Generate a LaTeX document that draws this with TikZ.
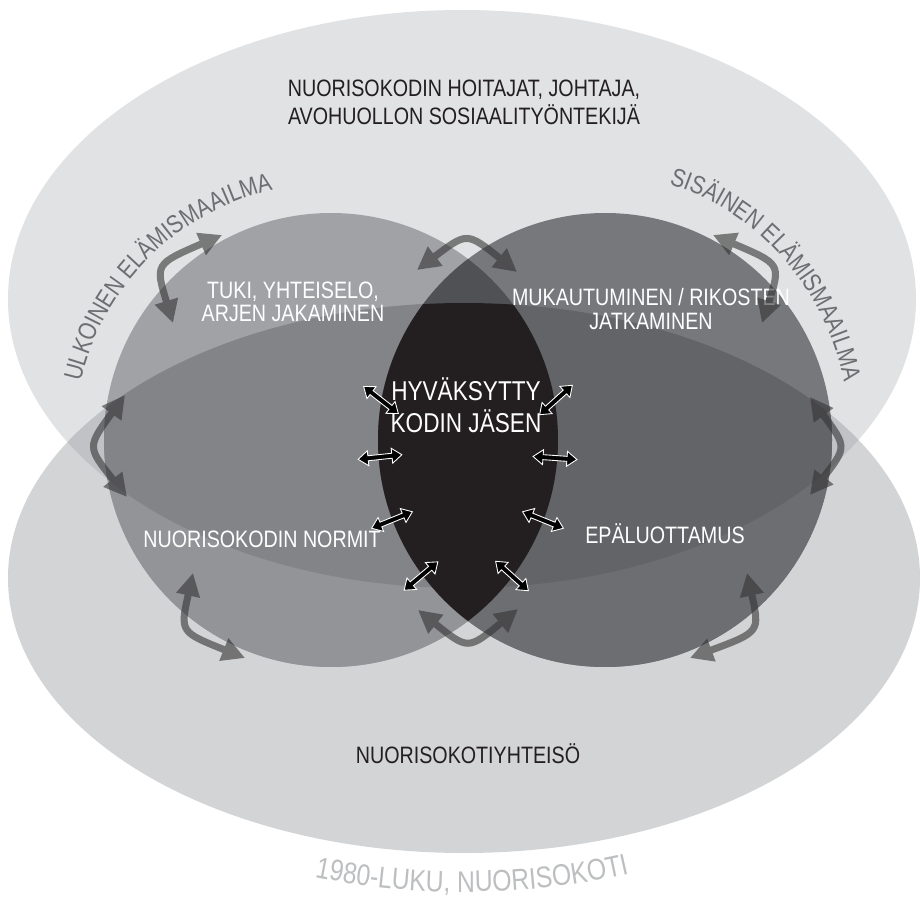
\documentclass[tikz,border=0pt]{standalone}
\usepackage{fontspec}
\setmainfont{Liberation Sans}[FakeStretch=0.83]
\usepackage{tikz}
\usetikzlibrary{arrows.meta,decorations.text}

\definecolor{topfill}{HTML}{E1E2E3}
\definecolor{botfill}{HTML}{D3D4D6}
\definecolor{bothfill}{HTML}{C1C2C5}
\definecolor{lefttop}{HTML}{A1A2A6}
\definecolor{leftboth}{HTML}{838488}
\definecolor{leftbot}{HTML}{939498}
\definecolor{righttop}{HTML}{77787C}
\definecolor{rightboth}{HTML}{636468}
\definecolor{rightbot}{HTML}{6D6E72}
\definecolor{lenstop}{HTML}{505155}
\definecolor{lensdark}{HTML}{231F20}
\definecolor{ringtext}{HTML}{6D6E71}
\definecolor{eratext}{HTML}{BCBEC0}

\def\topoval{(462,-299) ellipse [x radius=454, y radius=289]}
\def\botoval{(464,-578) ellipse [x radius=456, y radius=275]}
\def\leftdisc{(331,-440) circle [radius=227]}
\def\rightdisc{(605,-440) circle [radius=227]}

\tikzset{
  pics/twoway/.style={code={
    \filldraw[draw=white, fill=black, line width=0.5pt]
      (-22,0) -- (-12,7.5) -- (-12,2.5) -- (12,2.5) -- (12,7.5) -- (22,0)
      -- (12,-7.5) -- (12,-2.5) -- (-12,-2.5) -- (-12,-7.5) -- cycle;}},
  bigarrow/.style={line width=4pt, draw=black!80,
    {Triangle[length=13pt,width=13pt]}-{Triangle[length=13pt,width=13pt]}},
  inlabel/.style={text=white, align=center, anchor=base, inner sep=0pt,
    font=\fontsize{13.5}{14.2}\selectfont},
  outlabel/.style={text=lensdark, align=center, anchor=base, inner sep=0pt,
    font=\fontsize{13.5}{16}\selectfont}
}

\begin{document}
\begin{tikzpicture}[x=0.02cm, y=0.02cm]
  \useasboundingbox (0,0) rectangle (920,-898);

  % two worlds and two spheres
  \fill[topfill] \topoval;
  \fill[botfill] \botoval;
  \begin{scope}
    \clip \topoval;
    \fill[bothfill] \botoval;
  \end{scope}
  \fill[lefttop] \leftdisc;
  \begin{scope}
    \clip \botoval;
    \fill[leftbot] \leftdisc;
    \clip \topoval;
    \fill[leftboth] \leftdisc;
  \end{scope}
  \fill[righttop] \rightdisc;
  \begin{scope}
    \clip \botoval;
    \fill[rightbot] \rightdisc;
    \clip \topoval;
    \fill[rightboth] \rightdisc;
  \end{scope}
  \begin{scope}
    \clip \leftdisc;
    \fill[lenstop] \rightdisc;
    \clip \botoval;
    \fill[lensdark] \rightdisc;
  \end{scope}

  % labels (base = last line)
  \node[outlabel] (staff) at (464,-125) {NUORISOKODIN HOITAJAT, JOHTAJA,\\AVOHUOLLON SOSIAALITYÖNTEKIJÄ};
  \node[inlabel, font=\fontsize{13.5}{13.6}\selectfont] (support) at (293,-322) {TUKI, YHTEISELO,\\ARJEN JAKAMINEN};
  \node[inlabel] (adapt) at (651,-330) {MUKAUTUMINEN / RIKOSTEN\\JATKAMINEN};
  \node[inlabel, font=\fontsize{15.5}{18.7}\selectfont] (member) at (466,-433) {HYVÄKSYTTY\\KODIN JÄSEN};
  \node[inlabel] (norms) at (262,-547) {NUORISOKODIN NORMIT};
  \node[inlabel] (distrust) at (665,-543) {EPÄLUOTTAMUS};
  \node[outlabel] (community) at (468,-763) {NUORISOKOTIYHTEISÖ};

  % curved captions
  \path[decorate, decoration={text along path, text align=center,
      text={|\fontsize{14.5}{16}\selectfont\color{ringtext}|ULKOINEN ELÄMISMAAILMA}}]
    (331,-440) ++(172:257) arc[start angle=172, end angle=98, radius=257];
  \path[decorate, decoration={text along path, text align=center,
      text={|\fontsize{14.5}{16}\selectfont\color{ringtext}|SISÄINEN ELÄMISMAAILMA}}]
    (605,-440) ++(82:245 and 265) arc[start angle=82, end angle=6, x radius=245, y radius=265];
  \path[decorate, decoration={text along path, text align=center,
      text={|\fontsize{17}{18}\selectfont\color{eratext}|1980-LUKU, NUORISOKOTI}}]
    (464,-578) ++(-112:490 and 314) arc[start angle=-112, end angle=-66, x radius=490, y radius=314];

  % curved two-way arrows
  \coordinate (lt1) at (222,-235);  \coordinate (lt2) at (173,-323);
  \coordinate (rt1) at (713,-235);  \coordinate (rt2) at (762,-323);
  \coordinate (ls1) at (125,-395);  \coordinate (ls2) at (127,-497);
  \coordinate (rs1) at (810,-397);  \coordinate (rs2) at (810,-495);
  \coordinate (lb1) at (193,-573);  \coordinate (lb2) at (245,-658);
  \coordinate (rb1) at (747,-573);  \coordinate (rb2) at (690,-658);
  \coordinate (cb1) at (418,-610);  \coordinate (cb2) at (518,-609);
  \coordinate (ct1) at (417,-270);  \coordinate (ct2) at (517,-272);
  \begin{scope}[transparency group, opacity=0.6]
    \draw[bigarrow] (lt1) .. controls (155,-264) .. (lt2);
    \draw[bigarrow] (rt1) .. controls (781,-264) .. (rt2);
    \draw[bigarrow] (ls1) .. controls (87,-447) .. (ls2);
    \draw[bigarrow] (rs1) .. controls (847,-447) .. (rs2);
    \draw[bigarrow] (lb1) .. controls (180,-632) .. (lb2);
    \draw[bigarrow] (rb1) .. controls (760,-632) .. (rb2);
    \draw[bigarrow] (cb1) .. controls (468,-650) .. (cb2);
    \draw[bigarrow] (ct1) .. controls (467,-232) .. (ct2);
  \end{scope}

  % small arrows round the lens
  \foreach \x/\y/\a in {381/-400/-38, 556/-400/42, 380/-457/6, 555/-458/-4,
                        392/-520/22, 543/-520/-22, 421/-576/40, 512/-576/-42}
    \pic[rotate=\a] at (\x,\y) {twoway};
\end{tikzpicture}
\end{document}
